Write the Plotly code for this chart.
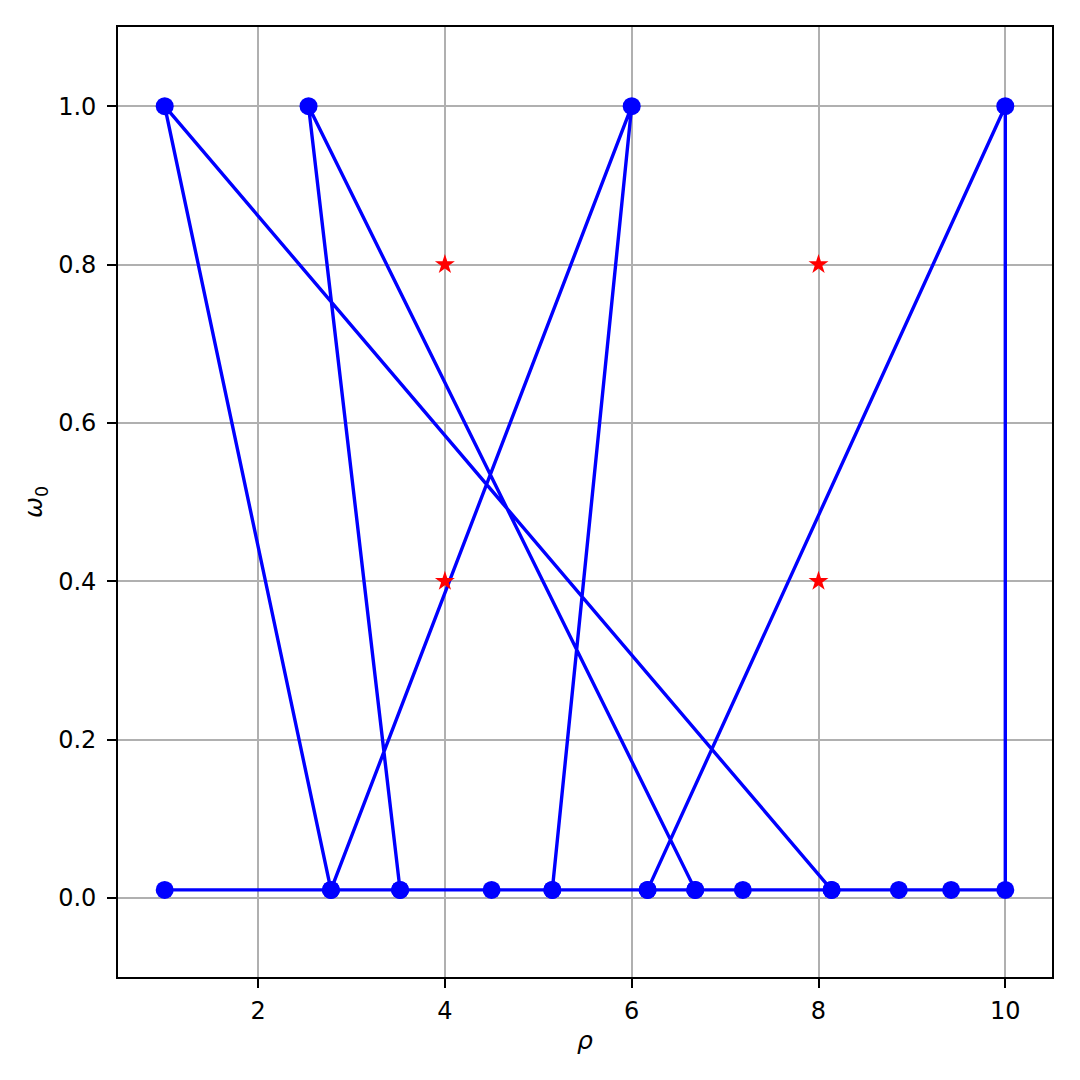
import plotly.graph_objects as go

# path of (rho, omega_0) points, in drawing order
rho = [1.0, 2.78, 3.52, 4.5, 5.15, 6.17, 6.68, 7.19, 8.14, 8.86, 9.42, 10.0,
       10.0, 6.17, 5.15, 6.0, 2.78, 1.0, 8.14, 6.68, 2.54, 3.52]
omega = [0.01, 0.01, 0.01, 0.01, 0.01, 0.01, 0.01, 0.01, 0.01, 0.01, 0.01, 0.01,
         1.0, 0.01, 0.01, 1.0, 0.01, 1.0, 0.01, 0.01, 1.0, 0.01]

star_rho = [4, 4, 8, 8]
star_omega = [0.8, 0.4, 0.8, 0.4]

x_ticks = [2, 4, 6, 8, 10]
y_ticks = [0.0, 0.2, 0.4, 0.6, 0.8, 1.0]
y_tick_labels = ["0.0", "0.2", "0.4", "0.6", "0.8", "1.0"]

fig = go.Figure()
fig.add_trace(go.Scatter(x=rho, y=omega, mode="lines+markers",
                         line=dict(color="blue", width=3.4),
                         marker=dict(color="blue", size=18),
                         showlegend=False))
fig.add_trace(go.Scatter(x=star_rho, y=star_omega, mode="markers",
                         marker=dict(color="red", symbol="star", size=15),
                         showlegend=False))

axis_common = dict(showgrid=True, gridcolor="#b0b0b0", gridwidth=2,
                   showline=True, linecolor="black", linewidth=1.6, mirror=True,
                   ticks="outside", ticklen=9, tickwidth=1.6, tickcolor="black",
                   zeroline=False, tickfont=dict(family="DejaVu Sans", size=24, color="black"))

fig.update_xaxes(range=[0.5, 10.5], tickvals=x_ticks, ticklabelstandoff=2,
                 title=dict(text="<i>ρ</i>", font=dict(family="DejaVu Sans", size=25, color="black"), standoff=8),
                 **axis_common)
fig.update_yaxes(range=[-0.1, 1.1], tickvals=y_ticks, ticktext=y_tick_labels, ticklabelstandoff=6,
                 title=dict(text="<i>ω</i><sub>0</sub>", font=dict(family="DejaVu Sans", size=25, color="black"), standoff=8),
                 **axis_common)

fig.update_layout(width=1080, height=1080, plot_bgcolor="white", paper_bgcolor="white",
                  margin=dict(l=110, r=36, t=19, b=111))

fig.write_html("out.html")
